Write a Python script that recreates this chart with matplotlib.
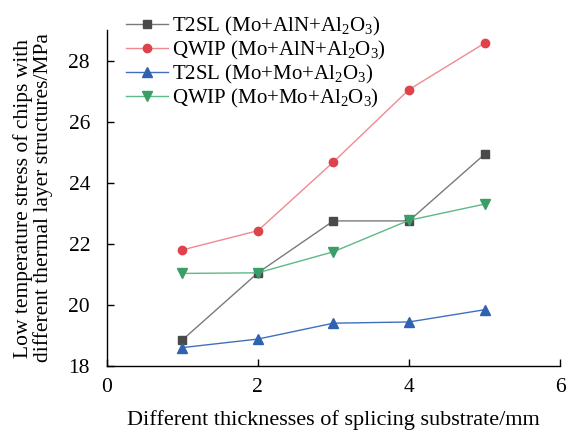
import matplotlib
matplotlib.use("Agg")
import matplotlib.pyplot as plt

plt.rcParams["font.family"] = ["Liberation Serif", "DejaVu Serif"]
plt.rcParams["mathtext.fontset"] = "custom"
plt.rcParams["mathtext.rm"] = "Liberation Serif"
plt.rcParams["mathtext.it"] = "Liberation Serif:italic"

# ── Data ──────────────────────────────────────────────────────────────────────
thickness = [1, 2, 3, 4, 5]
t2sl_aln = [18.85, 21.05, 22.75, 22.75, 24.93]
qwip_aln = [21.80, 22.43, 24.68, 27.05, 28.57]
t2sl_mo = [18.60, 18.88, 19.40, 19.44, 19.84]
qwip_mo = [21.03, 21.05, 21.74, 22.77, 23.30]

labels = [
    r"T2SL (Mo+AlN+Al$_2$O$_3$)",
    r"QWIP (Mo+AlN+Al$_2$O$_3$)",
    r"T2SL (Mo+Mo+Al$_2$O$_3$)",
    r"QWIP (Mo+Mo+Al$_2$O$_3$)",
]
x_ticks = [0, 2, 4, 6]
y_ticks = [18, 20, 22, 24, 26, 28]

fig = plt.figure(figsize=(5.68, 4.30), dpi=100)
ax = fig.add_axes([0.188, 0.149, 0.798, 0.781])

ax.plot(thickness, t2sl_aln, color="#7a7a7a", lw=1.0, marker="s", ms=5.5,
        mfc="#4a4a4a", mec="#4a4a4a", label=labels[0])
ax.plot(thickness, qwip_aln, color="#f08a90", lw=1.0, marker="o", ms=6,
        mfc="#e0424c", mec="#e0424c", label=labels[1])
ax.plot(thickness, t2sl_mo, color="#3f70bd", lw=1.0, marker="^", ms=6.5,
        mfc="#2f62b0", mec="#2f62b0", label=labels[2])
ax.plot(thickness, qwip_mo, color="#5fb888", lw=1.0, marker="v", ms=6.5,
        mfc="#3a9e68", mec="#3a9e68", label=labels[3])

ax.set_xlim(0, 6)
ax.set_ylim(18, 29)
ax.set_xticks(x_ticks)
ax.set_yticks(y_ticks)
ax.tick_params(direction="in", labelsize=15.5, length=5, width=1)
ax.tick_params(axis="x", pad=9)
ax.tick_params(axis="y", pad=12)
for side in ["top", "right"]:
    ax.spines[side].set_visible(False)
for side in ["left", "bottom"]:
    ax.spines[side].set_linewidth(1.0)

ax.set_xlabel("Different thicknesses of splicing substrate/mm", fontsize=16, labelpad=9)
ax.set_ylabel("Low temperature stress of chips with\ndifferent thermal layer structures/MPa",
              fontsize=15.5, labelpad=11, linespacing=1.05)

fig.legend(loc="upper left", bbox_to_anchor=(0.2, 0.995), frameon=False,
           fontsize=15, handlelength=2.0, handletextpad=0.2, labelspacing=0.05,
           borderaxespad=0.2)

fig.savefig("out.png", dpi=100)
